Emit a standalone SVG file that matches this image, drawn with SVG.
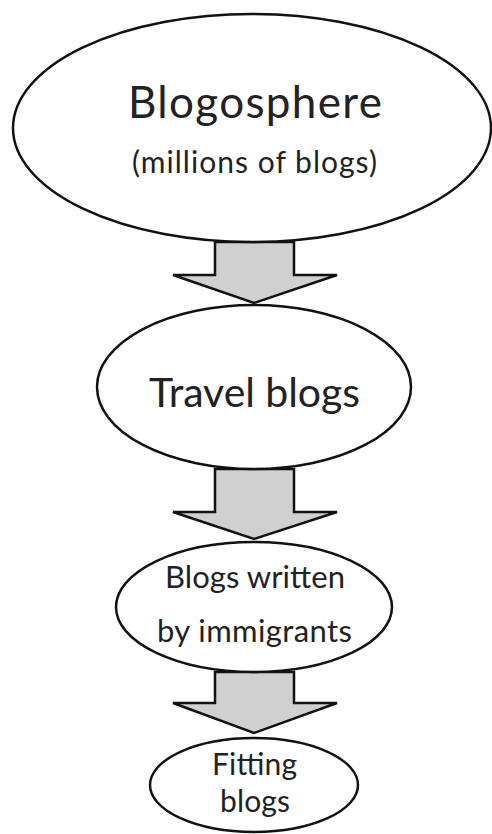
<svg xmlns="http://www.w3.org/2000/svg" width="492" height="834" viewBox="0 0 492 834">
<style>
.node{fill:#fff;stroke:#111;stroke-width:2.5}
.arrow{fill:#d0d0d0;stroke:#111;stroke-width:2.5;stroke-linejoin:miter}
text{font-family:Lato,"Liberation Sans",sans-serif;fill:#222;text-anchor:middle}
</style>
<rect width="492" height="834" fill="#fff"/>
<g id="connectors">
<polygon class="arrow" points="215,242 294,242 294,275 337,275 254,303 173,275 215,275"/>
<polygon class="arrow" points="215,469 294,469 294,512 337,512 254,539 173,512 215,512"/>
<polygon class="arrow" points="215,672 294,672 294,703 337,703 254,733 173,703 215,703"/>
</g>
<g id="blogosphere">
<ellipse class="node" cx="252" cy="128" rx="239" ry="114"/>
<text x="255" y="118" font-size="44" textLength="254" lengthAdjust="spacing">Blogosphere</text>
<text x="254.5" y="173" font-size="30" textLength="245" lengthAdjust="spacing">(millions of blogs)</text>
</g>
<g id="travel">
<ellipse class="node" cx="254" cy="387" rx="157" ry="82"/>
<text x="254.5" y="407" font-size="41" textLength="211" lengthAdjust="spacing">Travel blogs</text>
</g>
<g id="immigrants">
<ellipse class="node" cx="254" cy="607" rx="138" ry="65"/>
<text x="255" y="588" font-size="31" textLength="180" lengthAdjust="spacing">Blogs written</text>
<text x="254.5" y="642" font-size="31" textLength="195" lengthAdjust="spacing">by immigrants</text>
</g>
<g id="fitting">
<ellipse class="node" cx="254" cy="785" rx="104" ry="47"/>
<text x="254.5" y="775" font-size="30" textLength="85" lengthAdjust="spacing">Fitting</text>
<text x="255" y="812" font-size="30" textLength="70" lengthAdjust="spacing">blogs</text>
</g>
</svg>
